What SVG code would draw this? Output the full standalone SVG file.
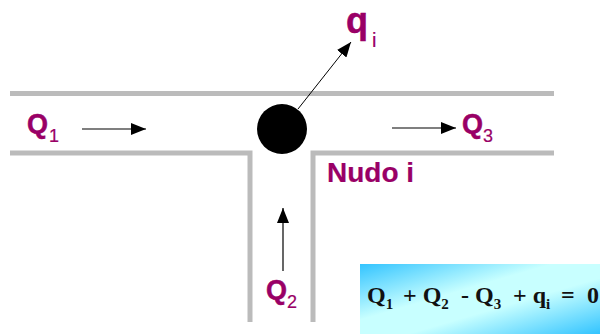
<svg xmlns="http://www.w3.org/2000/svg" width="600" height="334" viewBox="0 0 600 334">
<style>
.pipe{fill:none;stroke:#bbb;stroke-width:5}
.flow{fill:none;stroke:#000;stroke-width:1.2}
.lab{font-family:"Liberation Sans",Arial,sans-serif;font-weight:bold;fill:#990066;stroke:#990066;stroke-width:0.5;font-size:27px}
.sub{font-size:18px;font-weight:normal;stroke-width:0.2}
.eq{font-family:"Liberation Serif","Times New Roman",serif;font-weight:bold;fill:#111;font-size:24px}
.es{font-size:15px}
</style>
<defs>
<marker id="ah" markerUnits="userSpaceOnUse" markerWidth="16" markerHeight="12" refX="15" refY="6" orient="auto"><path d="M0 0L15 6L0 12Z" fill="#000"/></marker>
<linearGradient id="bg" x1="0" y1="0" x2="1" y2="1" gradientUnits="objectBoundingBox"><stop offset="0" stop-color="#33c4ff"/><stop offset="0.4" stop-color="#c8ffff"/><stop offset="0.6" stop-color="#c8ffff"/><stop offset="1" stop-color="#33c4ff"/></linearGradient>
</defs>
<g id="pipes">
<path class="pipe" d="M10 93.500H554"/>
<path class="pipe" d="M10 153H250V322"/>
<path class="pipe" d="M554 153H313V322"/>
</g>
<g id="connectors">
<path class="flow" d="M82 129H146" marker-end="url(#ah)"/>
<path class="flow" d="M392 128H456" marker-end="url(#ah)"/>
<path class="flow" d="M283 271V208" marker-end="url(#ah)"/>
<path class="flow" d="M298 109L351 42" marker-end="url(#ah)" style="stroke-width:1"/>
</g>
<g id="node-i">
<circle cx="282" cy="129" r="25" fill="#000"/>
<text class="lab" x="327" y="182" style="font-size:28px;stroke-width:0.2">Nudo i</text>
</g>
<g id="label-q1"><text class="lab" x="27" y="133">Q<tspan class="sub" x="49" dy="9">1</tspan></text></g>
<g id="label-q3"><text class="lab" x="462" y="133">Q<tspan class="sub" x="483" dy="9">3</tspan></text></g>
<g id="label-q2"><text class="lab" x="266" y="299">Q<tspan class="sub" x="287" dy="9">2</tspan></text></g>
<g id="label-qi"><text class="lab" x="346" y="33" style="font-size:36px">q<tspan x="372" dy="14" style="font-size:20px;font-weight:normal;stroke-width:0.2">i</tspan></text></g>
<g id="equation">
<rect x="360" y="264" width="240" height="70" fill="url(#bg)"/>
<text class="eq" x="367" y="303">Q<tspan class="es" dy="6">1</tspan></text>
<text class="eq" x="403" y="303">+ Q<tspan class="es" dy="6">2</tspan></text>
<text class="eq" x="461" y="303">- Q<tspan class="es" dy="6">3</tspan></text>
<text class="eq" x="513" y="303">+ q<tspan class="es" dy="6">i</tspan></text>
<text class="eq" x="561" y="303">=</text>
<text class="eq" x="587" y="303">0</text>
</g>
</svg>
